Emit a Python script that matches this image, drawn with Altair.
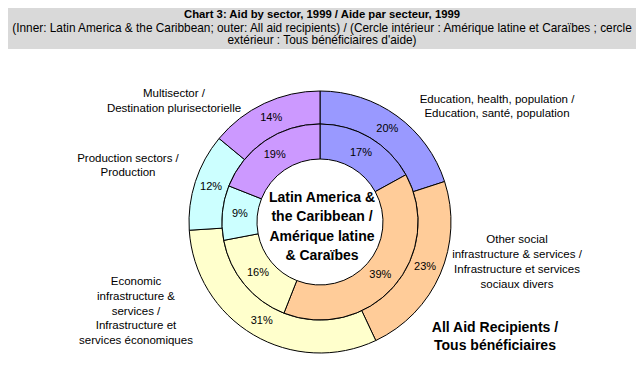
import altair as alt
import pandas as pd

# ---------------- data ----------------
sectors = [
    "Education, health, population",
    "Other social infrastructure & services",
    "Economic infrastructure & services",
    "Production sectors",
    "Multisector",
]
inner_pct = [17, 39, 16, 9, 19]   # Latin America & the Caribbean
outer_pct = [20, 23, 31, 12, 14]  # All aid recipients
colors = ["#9999FF", "#FFCC99", "#FFFFCC", "#CCFFFF", "#CC99FF"]

sector_labels = [
    ["Education, health, population /", "Education, santé, population"],
    ["Other social", "infrastructure & services /", "Infrastructure et services", "sociaux divers"],
    ["Economic", "infrastructure &", "services /", "Infrastructure et", "services économiques"],
    ["Production sectors /", "Production"],
    ["Multisector /", "Destination plurisectorielle"],
]
inner_title = ["Latin America &", "the Caribbean /", "Amérique latine", "& Caraïbes"]
outer_title = ["All Aid Recipients /", "Tous bénéficiaires"]
title = "Chart 3: Aid by sector, 1999 / Aide par secteur, 1999"
subtitle = [
    "(Inner: Latin America & the Caribbean; outer: All aid recipients) / (Cercle intérieur : Amérique latine et Caraïbes ; cercle",
    "extérieur : Tous bénéficiaires d'aide)",
]

# ---------------- layout ----------------
W, H = 628, 351
CX, CY = 312, 214
R_OUT, R_MID, R_IN = 131, 98, 63
FONT = "Liberation Sans"

# (x, y of first line, line height)
label_pos = [(489, 92, 14), (509, 232, 15), (128, 274, 14.8), (120, 151, 14), (166, 85.5, 15)]


def ring_df(vals):
    return pd.DataFrame({
        "sector": sectors,
        "pct": vals,
        "idx": list(range(len(vals))),
        "label": [f"{v}%" for v in vals],
    })


color = alt.Color("sector:N", scale=alt.Scale(domain=sectors, range=colors), legend=None)


def ring(vals, r1, r2):
    base = alt.Chart(ring_df(vals)).encode(
        theta=alt.Theta("pct:Q", stack=True),
        order=alt.Order("idx:Q"),
        x=alt.value(CX),
        y=alt.value(CY),
    )
    arc = base.mark_arc(stroke="black", strokeWidth=1).encode(
        color=color, radius=alt.value(r1), radius2=alt.value(r2)
    )
    txt = base.mark_text(radius=(r1 + r2) / 2, font=FONT, fontSize=11, color="black").encode(
        text="label:N"
    )
    return arc + txt


def text_block(lines, x, y, lh, size=11.0, bold=False):
    return alt.Chart(pd.DataFrame({"a": [0]})).mark_text(
        font=FONT, fontSize=size, fontWeight="bold" if bold else "normal",
        lineHeight=lh, align="center", baseline="middle", color="black",
    ).encode(x=alt.value(x), y=alt.value(y), text=alt.value(lines))


layers = []
layers.append(
    alt.Chart(pd.DataFrame({"a": [0]})).mark_rect(color="#D9D9D9").encode(
        x=alt.value(0), x2=alt.value(W), y=alt.value(0), y2=alt.value(41)
    )
)
layers.append(text_block(title, 314, 7, 13, size=11.3, bold=True))
layers.append(text_block(subtitle[0], 314, 19.5, 13, size=11.85))
layers.append(text_block(subtitle[1], 314, 32, 13, size=11.85))

layers.append(ring(outer_pct, R_OUT, R_MID))
layers.append(ring(inner_pct, R_MID, R_IN))

for lines, (x, y, lh) in zip(sector_labels, label_pos):
    layers.append(text_block(lines, x, y, lh, size=11.5))

layers.append(text_block(inner_title, 314, 190, 19.3, size=14, bold=True))
layers.append(text_block(outer_title, 487, 320, 18, size=14, bold=True))

chart = alt.layer(*layers).properties(
    width=W, height=H, padding=0, autosize="none"
).configure_view(strokeWidth=0)

chart.save("out.html", embed_options={"renderer": "svg", "actions": False})
